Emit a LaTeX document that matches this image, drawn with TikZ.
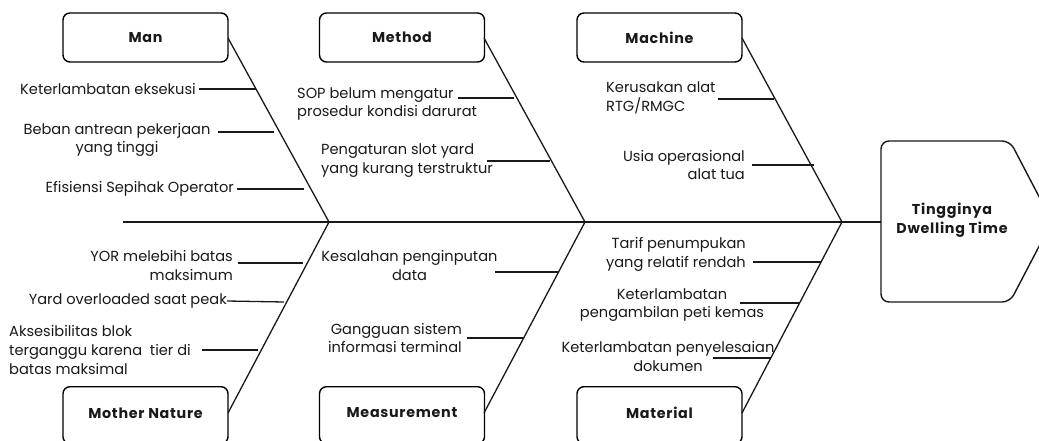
\documentclass[tikz,border=0pt]{standalone}
\usepackage{fontspec}
\setmainfont{Poppins}
\newfontfamily\catfont[LetterSpace=5]{Poppins}
\begin{document}
\begin{tikzpicture}[x=1pt,y=-1pt,
  catfnt/.style={font=\catfont\fontsize{14.3}{19}\selectfont\bfseries},
  catbox/.style={draw=black,line width=1.4pt,rounded corners=7pt,minimum width=165pt,minimum height=49pt,inner sep=0pt,catfnt,text=black!90},
  lowbox/.style={catbox,minimum height=57pt},
  cause/.style={inner sep=0pt,font=\fontsize{14.6}{18.8}\selectfont,text=black!90},
  bone/.style={line width=1.3pt,black!90},
  sub/.style={line width=1.3pt,black!90},
  spine/.style={line width=1.8pt,black!90}]
\useasboundingbox (0,0) rectangle (1039,441);
\clip (0,0) rectangle (1039,441);
% category boxes
\node[catbox] (man) at (145.5,37.5) {Man};
\node[catbox] (method) at (402,37.5) {Method};
\node[catbox] (machine) at (659.5,37.5) {Machine};
\node[lowbox,anchor=north] (nature) at (145.5,386) {};
\node[lowbox,anchor=north] (meas) at (402,386) {};
\node[lowbox,anchor=north] (mat) at (659.5,386) {};
\node[inner sep=0pt,catfnt,text=black!90] (naturet) at (145.5,413) {Mother Nature};
\node[inner sep=0pt,catfnt,text=black!90] (meast) at (402,413) {Measurement};
\node[inner sep=0pt,catfnt,text=black!90] (matt) at (659.5,413) {Material};
% head
\coordinate (hl) at (881,222);
\draw[line width=1.4pt,black!90,rounded corners=8pt] (881,141) -- (1010,141) -- (1052,221.5) -- (1010,302) -- (881,302) -- cycle;
\node[inner sep=0pt,align=center,catfnt,text=black!90] (head) at (952,220.5) {Tingginya\\Dwelling Time};
% spine
\coordinate (tail) at (123,222);
\coordinate (j1) at (329,222);
\coordinate (j2) at (585,222);
\coordinate (j3) at (842,222);
\draw[spine] (tail) -- (hl);
% bones
\coordinate (manr) at (228,38);
\coordinate (methodr) at (484,38);
\coordinate (machiner) at (742,38);
\coordinate (naturer) at (228,413);
\coordinate (measr) at (484,413);
\coordinate (matr) at (742,413);
\draw[bone] (manr) -- (j1);
\draw[bone] (methodr) -- (j2);
\draw[bone] (machiner) -- (j3);
\draw[bone] (naturer) -- (j1);
\draw[bone] (measr) -- (j2);
\draw[bone] (matr) -- (j3);
% Man causes
\node[cause,anchor=east] (c1) at (196,89) {Keterlambatan eksekusi};
\node[cause,align=center] (c2) at (117,140) {Beban antrean pekerjaan\\yang tinggi};
\node[cause,anchor=east] (c3) at (234,189) {Efisiensi Sepihak Operator};
\coordinate (c1e) at (256,89);
\coordinate (c2s) at (218,132);
\coordinate (c2e) at (274,132);
\coordinate (c3e) at (304,189);
\draw[sub] (c1.east) ++(3,0) -- (c1e);
\draw[sub] (c2s) -- (c2e);
\draw[sub] (c3.east) ++(3,0) -- (c3e);
% Method causes
\node[cause,anchor=west,align=left] (c4) at (297,104) {SOP belum mengatur\\prosedur kondisi darurat};
\node[cause,anchor=west,align=left] (c5) at (321,160.5) {Pengaturan slot yard\\yang kurang terstruktur};
\coordinate (c4s) at (458,98);
\coordinate (c4e) at (514,98);
\coordinate (c5s) at (487,161);
\coordinate (c5e) at (550,161);
\draw[sub] (c4s) -- (c4e);
\draw[sub] (c5s) -- (c5e);
% Machine causes
\node[cause,anchor=west,align=left] (c6) at (606,97.5) {Kerusakan alat\\RTG/RMGC};
\node[cause,anchor=east,align=right] (c7) at (745,165) {Usia operasional\\alat tua};
\coordinate (c6s) at (718,99);
\coordinate (c6e) at (774,99);
\coordinate (c7s) at (752,165);
\coordinate (c7e) at (814,165);
\draw[sub] (c6s) -- (c6e);
\draw[sub] (c7s) -- (c7e);
% Mother Nature causes
\node[cause,anchor=east,align=right] (c8) at (233,265.5) {YOR melebihi batas\\maksimum};
\node[cause,anchor=east] (c9) at (227,301) {Yard overloaded saat peak};
\node[cause,anchor=west,align=left] (c10) at (9,350) {Aksesibilitas blok\\terganggu karena\ \ tier di\\batas maksimal};
\coordinate (c8s) at (238,263);
\coordinate (c8e) at (303,263);
\coordinate (c9e) at (284,302);
\coordinate (c10s) at (202,350);
\coordinate (c10e) at (258,350);
\draw[sub] (c8s) -- (c8e);
\draw[sub] (c9.east) -- (c9e);
\draw[sub] (c10s) -- (c10e);
% Measurement causes
\node[cause,align=center] (c11) at (409.5,265.5) {Kesalahan penginputan\\data};
\node[cause,anchor=east,align=right] (c12) at (462,338) {Gangguan sistem\\informasi terminal};
\coordinate (c11s) at (495,272);
\coordinate (c11e) at (559,272);
\coordinate (c12s) at (467,338);
\coordinate (c12e) at (523,338);
\draw[sub] (c11s) -- (c11e);
\draw[sub] (c12s) -- (c12e);
% Material causes
\node[cause,anchor=east,align=right] (c13) at (746,254) {Tarif penumpukan\\yang relatif rendah};
\node[cause,align=center] (c14) at (672,305) {Keterlambatan\\pengambilan peti kemas};
\node[cause,align=center] (c15) at (668,356.5) {Keterlambatan penyelesaian\\dokumen};
\coordinate (c13s) at (753,262);
\coordinate (c13e) at (821,262);
\coordinate (c14s) at (740,303);
\coordinate (c14e) at (800,303);
\coordinate (c15s) at (713,358);
\coordinate (c15e) at (771,358);
\draw[sub] (c13s) -- (c13e);
\draw[sub] (c14s) -- (c14e);
\draw[sub] (c15s) -- (c15e);
\end{tikzpicture}
\end{document}
